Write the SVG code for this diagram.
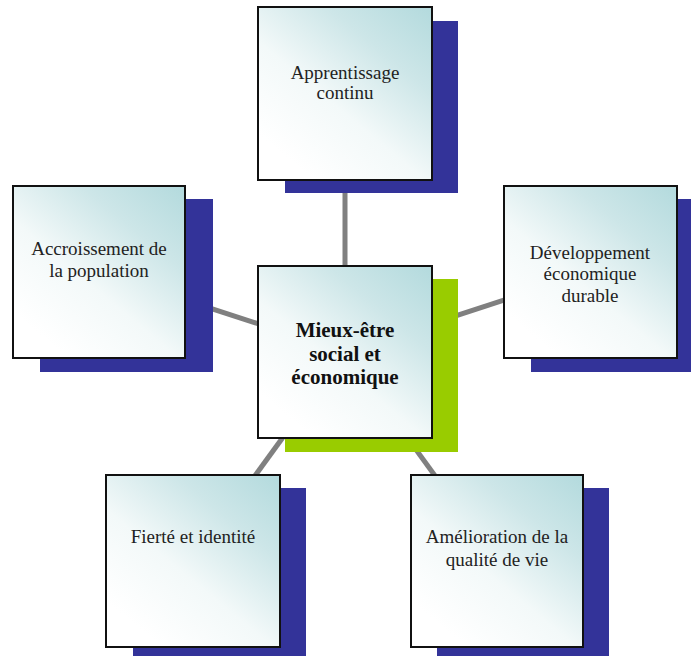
<svg xmlns="http://www.w3.org/2000/svg" width="691" height="656" viewBox="0 0 691 656">
  <defs>
    <linearGradient id="boxFill" x1="0.95" y1="0" x2="0.2" y2="0.9">
      <stop offset="0" stop-color="#b5dbde"/>
      <stop offset="0.3" stop-color="#cde6e8"/>
      <stop offset="0.65" stop-color="#f3f9f9"/>
      <stop offset="1" stop-color="#ffffff"/>
    </linearGradient>
    <style>
      .link { stroke: #808080; stroke-width: 5; fill: none; }
      .shadow { fill: #333399; }
      .shadow-main { fill: #99cc00; }
      .box { fill: url(#boxFill); stroke: #111111; stroke-width: 2; }
      text { font-family: "Liberation Serif", "DejaVu Serif", "Times New Roman", serif; text-anchor: middle; }
      .label { font-size: 19px; fill: #222222; }
      .label-main { font-size: 21px; font-weight: bold; fill: #111111; }
    </style>
  </defs>

  <rect width="691" height="656" fill="#ffffff"/>

  <!-- connectors from the central node to each satellite -->
  <g id="connectors">
    <line class="link" x1="345" y1="352" x2="345" y2="94"/>
    <line class="link" x1="345" y1="352" x2="99" y2="272"/>
    <line class="link" x1="345" y1="352" x2="590" y2="272"/>
    <line class="link" x1="345" y1="352" x2="193" y2="561"/>
    <line class="link" x1="345" y1="352" x2="497" y2="561"/>
  </g>

  <g id="node-apprentissage">
    <rect class="shadow" x="285" y="21" width="173" height="172"/>
    <rect class="box" x="258" y="7" width="174" height="173"/>
    <text class="label" x="345" y="79">Apprentissage</text>
    <text class="label" x="345" y="99">continu</text>
  </g>

  <g id="node-accroissement">
    <rect class="shadow" x="40" y="199" width="173" height="173"/>
    <rect class="box" x="13" y="186" width="172" height="172"/>
    <text class="label" x="99" y="255">Accroissement de</text>
    <text class="label" x="99" y="277">la population</text>
  </g>

  <g id="node-developpement">
    <rect class="shadow" x="531" y="199" width="160" height="173"/>
    <rect class="box" x="504" y="186" width="173" height="172"/>
    <text class="label" x="590" y="259">Développement</text>
    <text class="label" x="590" y="280">économique</text>
    <text class="label" x="590" y="302">durable</text>
  </g>

  <g id="node-mieux-etre">
    <rect class="shadow-main" x="285" y="279" width="173" height="173"/>
    <rect class="box" x="258" y="266" width="174" height="172"/>
    <text class="label-main" x="345" y="337">Mieux-être</text>
    <text class="label-main" x="345" y="361">social et</text>
    <text class="label-main" x="345" y="384">économique</text>
  </g>

  <g id="node-fierte">
    <rect class="shadow" x="133" y="488" width="173" height="170"/>
    <rect class="box" x="106" y="475" width="174" height="172"/>
    <text class="label" x="193" y="543">Fierté et identité</text>
  </g>

  <g id="node-amelioration">
    <rect class="shadow" x="437" y="488" width="172" height="170"/>
    <rect class="box" x="411" y="475" width="172" height="172"/>
    <text class="label" x="497" y="543">Amélioration de la</text>
    <text class="label" x="497" y="566">qualité de vie</text>
  </g>
</svg>
